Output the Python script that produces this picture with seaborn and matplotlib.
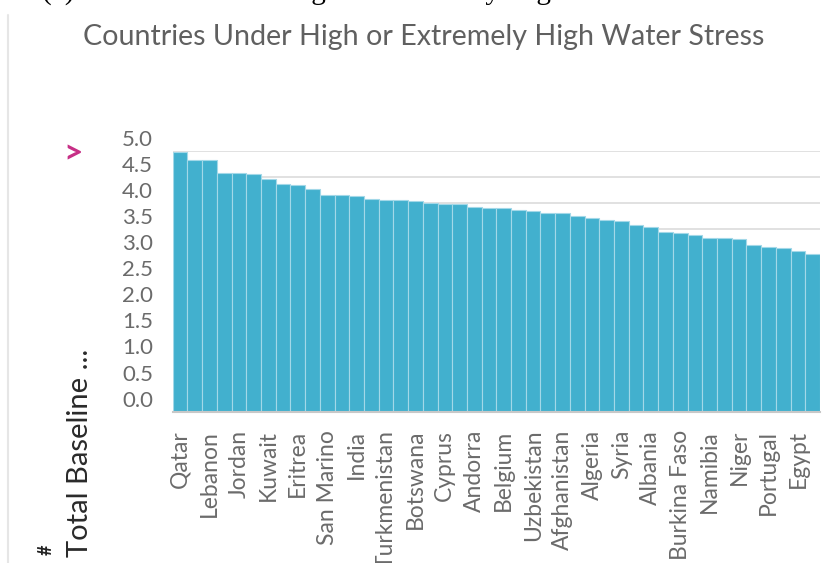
import matplotlib
matplotlib.use("Agg")
import matplotlib.pyplot as plt
import seaborn as sns
import pandas as pd
from matplotlib.transforms import ScaledTranslation
from matplotlib.lines import Line2D

countries = ["Qatar", "Israel", "Lebanon", "Iran", "Jordan", "Libya", "Kuwait",
             "Saudi Arabia", "Eritrea", "UAE", "San Marino", "Bahrain", "India",
             "Pakistan", "Turkmenistan", "Oman", "Botswana", "Chile", "Cyprus",
             "Yemen", "Andorra", "Morocco", "Belgium", "Mexico", "Uzbekistan",
             "Greece", "Afghanistan", "Spain", "Algeria", "Tunisia", "Syria",
             "Turkey", "Albania", "Armenia", "Burkina Faso", "Djibouti", "Namibia",
             "Kyrgyzstan", "Niger", "Nepal", "Portugal", "Iraq", "Egypt", "Italy"]
stress = [4.97, 4.83, 4.83, 4.58, 4.58, 4.56, 4.45, 4.37, 4.34, 4.27, 4.15, 4.15,
          4.13, 4.07, 4.06, 4.05, 4.03, 4.00, 3.98, 3.98, 3.93, 3.90, 3.90, 3.87,
          3.84, 3.81, 3.81, 3.75, 3.71, 3.68, 3.65, 3.57, 3.54, 3.45, 3.43, 3.38,
          3.33, 3.32, 3.30, 3.19, 3.15, 3.14, 3.08, 3.02]
y_ticks = [0.0, 0.5, 1.0, 1.5, 2.0, 2.5, 3.0, 3.5, 4.0, 4.5, 5.0]
title = "Countries Under High or Extremely High Water Stress"
caption = "(a) Countries Under High or Extremely High Water Stress"
y_label = "Total Baseline ..."

sns.set_theme(style="white")
plt.rcParams['font.family'] = ['Lato', 'DejaVu Sans']

W, H = 836, 563
fig = plt.figure(figsize=(W / 100, H / 100), dpi=100)
ax = fig.add_axes([172.7 / W, 1 - 411.7 / H, (820 - 172.7) / W, 261 / H])

df = pd.DataFrame({"country": countries, "value": stress})
sns.barplot(data=df, x="country", y="value", color="#42b0ce", saturation=1,
            width=1.0, edgecolor="#a3d8e8", linewidth=0.8, ax=ax, zorder=2)

ax.set_xlim(-0.5, len(countries) - 0.5)
ax.set_ylim(0, 5)
ax.set_yticks(y_ticks)
ax.set_yticklabels([f"{v:.1f}" for v in y_ticks])
ax.grid(axis='y', color='#dcdcdc', lw=1.2, zorder=0)
ax.grid(axis='x', visible=False)
ax.set_axisbelow(True)
for s in ['top', 'right', 'left']:
    ax.spines[s].set_visible(False)
ax.spines['bottom'].set_color('#c8c8c8')
ax.spines['bottom'].set_linewidth(1.5)
ax.tick_params(axis='y', length=0, pad=14, labelsize=16, labelcolor='#6b6b6b')
ax.set_xticks(range(0, len(countries), 2))
ax.set_xticklabels(countries[::2], rotation=90)
ax.tick_params(axis='x', length=0, pad=13, labelsize=16.5, labelcolor='#6b6b6b')
ax.set_xlabel('')
ax.set_ylabel('')

offset = ScaledTranslation(0, 0.13, fig.dpi_scale_trans)
for lab in ax.get_yticklabels():
    lab.set_transform(lab.get_transform() + offset)

fig.text(424 / W, 1 - 37 / H, title, ha='center', va='center', fontsize=20.6,
         color='#606060', fontweight='normal')
fig.text(80 / W, 6 / H, y_label, rotation=90, ha='center', va='bottom',
         fontsize=21, color='#2a2a2a')
fig.text(46 / W, 8 / H, '#', rotation=90, ha='center', va='bottom',
         fontsize=13, fontweight='bold', color='#222222')
fig.text(73 / W, 1 - 154 / H, '>', ha='center', va='center', fontsize=24,
         fontweight='bold', color='#c72f86')
fig.text(42 / W, 1 + 1 / H, caption, ha='left', va='baseline', fontsize=21,
         family=['Liberation Serif', 'DejaVu Serif'], color='black')
fig.add_artist(Line2D([8 / W, 8 / W], [0, 1 - 15 / H], color='#e6e6e6', lw=1.5,
                      transform=fig.transFigure))

fig.savefig("out.png", dpi=100)
